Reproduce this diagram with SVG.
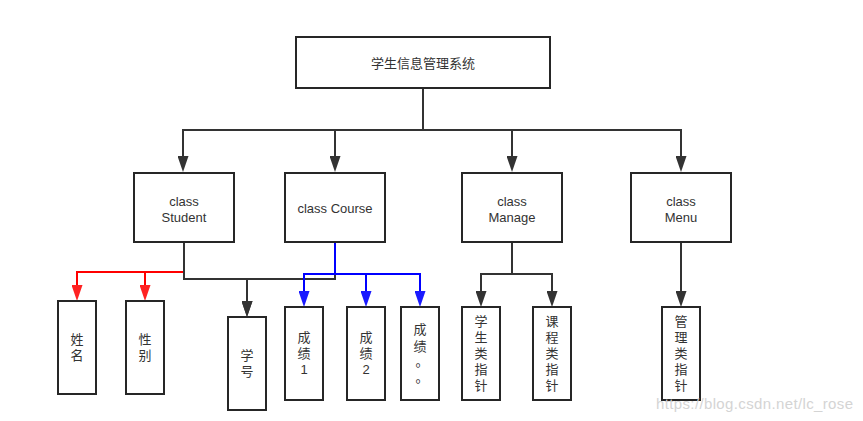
<svg xmlns="http://www.w3.org/2000/svg" width="863" height="421" viewBox="0 0 863 421">
<style>
.box{fill:#fff;stroke:#262626;stroke-width:2}
.t{font-family:"Liberation Sans","Noto Sans CJK SC",sans-serif;font-size:13px;fill:#333;text-anchor:middle;dominant-baseline:central}
.e{fill:none;stroke-width:2}
.k{stroke:#333}
.r{stroke:#ff0000}
.b{stroke:#0000ff}
</style>
<defs>
<marker id="ak" viewBox="0 0 16 11" refX="1" refY="5.5" markerWidth="16" markerHeight="11" markerUnits="userSpaceOnUse" orient="auto"><path d="M0,0 L16,5.5 L0,11 Z" fill="#333"/></marker>
<marker id="ar" viewBox="0 0 16 11" refX="1" refY="5.5" markerWidth="16" markerHeight="11" markerUnits="userSpaceOnUse" orient="auto"><path d="M0,0 L16,5.5 L0,11 Z" fill="#ff2222"/></marker>
<marker id="ab" viewBox="0 0 16 11" refX="1" refY="5.5" markerWidth="16" markerHeight="11" markerUnits="userSpaceOnUse" orient="auto"><path d="M0,0 L16,5.5 L0,11 Z" fill="#1a1aff"/></marker>
</defs>
<g id="connectors">
<path class="e k" d="M423,88 V130 H183 V157" marker-end="url(#ak)"/>
<path class="e k" d="M423,88 V130 H335 V157" marker-end="url(#ak)"/>
<path class="e k" d="M423,88 V130 H512 V157" marker-end="url(#ak)"/>
<path class="e k" d="M423,88 V130 H681 V157" marker-end="url(#ak)"/>
<path class="e r" d="M184,242 V272 H77 V286" marker-end="url(#ar)"/>
<path class="e r" d="M184,242 V272 H145 V286" marker-end="url(#ar)"/>
<path class="e k" d="M184,242 V279 H247 V302" marker-end="url(#ak)"/>
<path class="e k" d="M335,242 V279 H247 V302" marker-end="url(#ak)"/>
<path class="e b" d="M335,242 V274 H304 V292" marker-end="url(#ab)"/>
<path class="e b" d="M335,242 V274 H366 V292" marker-end="url(#ab)"/>
<path class="e b" d="M335,242 V274 H420 V292" marker-end="url(#ab)"/>
<path class="e k" d="M512,242 V274 H481 V292" marker-end="url(#ak)"/>
<path class="e k" d="M512,242 V274 H552 V292" marker-end="url(#ak)"/>
<path class="e k" d="M681,242 V292" marker-end="url(#ak)"/>
</g>
<g id="root"><rect class="box" x="296" y="37" width="254" height="51"/><text class="t" x="423" y="63">学生信息管理系统</text></g>
<g id="student"><rect class="box" x="134" y="173" width="100" height="69"/><text class="t" x="184" y="201">class</text><text class="t" x="184" y="217">Student</text></g>
<g id="course"><rect class="box" x="285" y="173" width="100" height="69"/><text class="t" x="335" y="208">class Course</text></g>
<g id="manage"><rect class="box" x="462" y="173" width="100" height="69"/><text class="t" x="512" y="201">class</text><text class="t" x="512" y="217">Manage</text></g>
<g id="menu"><rect class="box" x="631" y="173" width="100" height="69"/><text class="t" x="681" y="201">class</text><text class="t" x="681" y="217">Menu</text></g>
<g id="name"><rect class="box" x="58" y="301" width="38" height="93"/><text class="t" x="77" y="339">姓</text><text class="t" x="77" y="355">名</text></g>
<g id="gender"><rect class="box" x="126" y="301" width="38" height="93"/><text class="t" x="145" y="339">性</text><text class="t" x="145" y="355">别</text></g>
<g id="id"><rect class="box" x="228" y="317" width="38" height="93"/><text class="t" x="247" y="355">学</text><text class="t" x="247" y="371">号</text></g>
<g id="score1"><rect class="box" x="285" y="307" width="38" height="93"/><text class="t" x="304" y="337">成</text><text class="t" x="304" y="353">绩</text><text class="t" x="304" y="369">1</text></g>
<g id="score2"><rect class="box" x="347" y="307" width="38" height="93"/><text class="t" x="366" y="337">成</text><text class="t" x="366" y="353">绩</text><text class="t" x="366" y="369">2</text></g>
<g id="scoreN"><rect class="box" x="401" y="307" width="38" height="93"/><text class="t" x="420" y="329">成</text><text class="t" x="420" y="346">绩</text><text class="t" x="422" y="361">。</text><text class="t" x="422" y="377">。</text></g>
<g id="stuptr"><rect class="box" x="462" y="307" width="38" height="93"/><text class="t" x="481" y="321">学</text><text class="t" x="481" y="337">生</text><text class="t" x="481" y="353">类</text><text class="t" x="481" y="369">指</text><text class="t" x="481" y="385">针</text></g>
<g id="courseptr"><rect class="box" x="533" y="307" width="38" height="93"/><text class="t" x="552" y="321">课</text><text class="t" x="552" y="337">程</text><text class="t" x="552" y="353">类</text><text class="t" x="552" y="369">指</text><text class="t" x="552" y="385">针</text></g>
<g id="menuptr"><rect class="box" x="662" y="307" width="38" height="93"/><text class="t" x="681" y="321">管</text><text class="t" x="681" y="337">理</text><text class="t" x="681" y="353">类</text><text class="t" x="681" y="369">指</text><text class="t" x="681" y="385">针</text></g>
<text x="656" y="409" font-family="Liberation Sans, sans-serif" font-size="15" fill="#d4d4d4" textLength="197">https://blog.csdn.net/lc_rose</text>
</svg>
